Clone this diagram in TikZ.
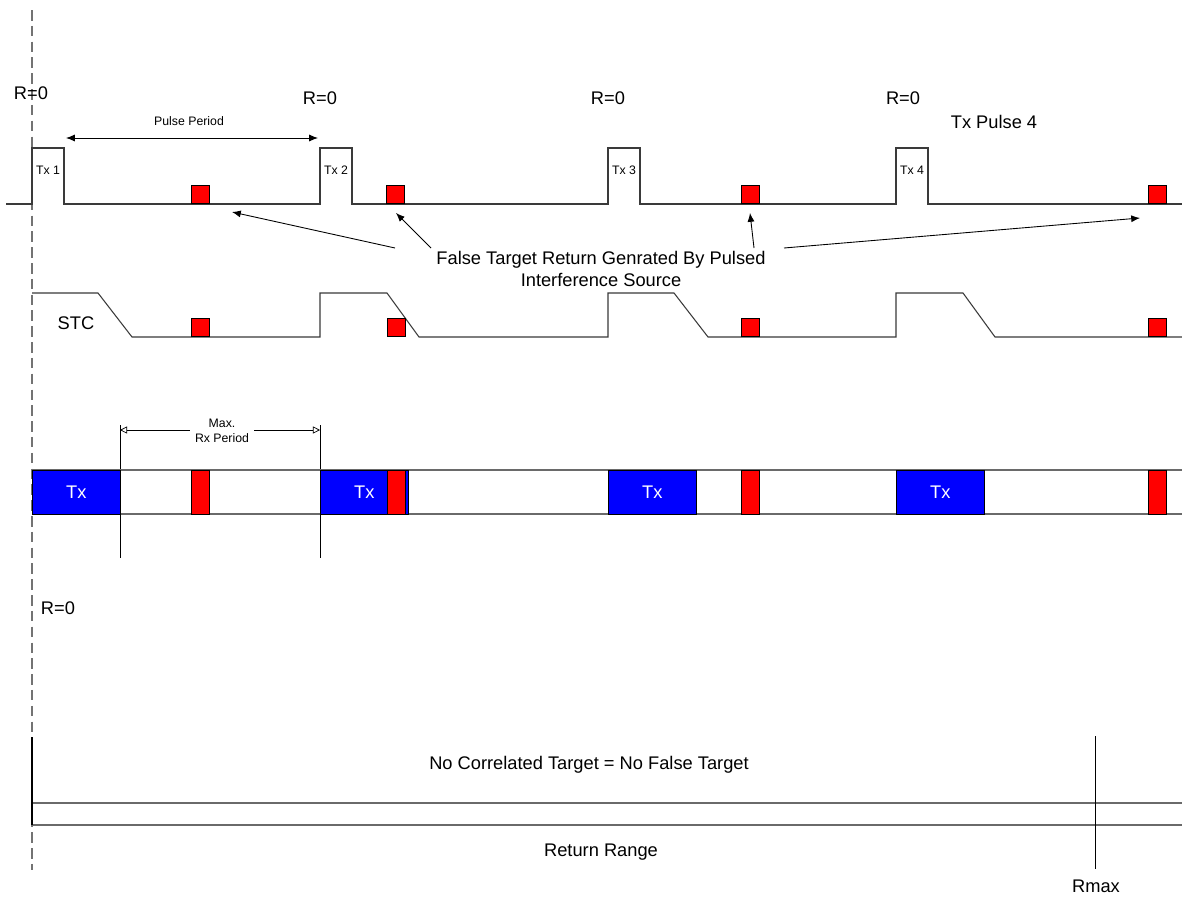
\documentclass[tikz,border=0pt]{standalone}
\usepackage{fontspec}
\setmainfont{Liberation Sans}
\usepackage{xcolor}
\definecolor{cTx}  {HTML}{0000FF}
\definecolor{cHit} {HTML}{FF0000}
\definecolor{cWave}{HTML}{3A3A3A}
\definecolor{cRail}{HTML}{6A6A6A}
\usepackage{tikz}
\usetikzlibrary{arrows.meta, positioning}
\tikzset{
  lbl/.style    = {font=\fontsize{10.4}{12.5}\selectfont, inner sep=0pt},
  note/.style   = {font=\fontsize{7}{8.6}\selectfont, inner sep=0pt},
  wave/.style   = {draw=cWave, line width=0.6pt},
  rail/.style   = {draw=cRail, line width=0.7pt},
  rzero/.style  = {draw=black!55, line width=0.9pt, dash pattern=on 6pt off 3pt},
  tgt/.style    = {rectangle, draw=black, fill=cHit, line width=0.4pt,
                   minimum width=0.36cm, minimum height=#1, inner sep=0pt},
  tgt/.default  = 0.36cm,
  txbox/.style  = {rectangle, draw=black, fill=cTx, text=white, line width=0.4pt,
                   minimum width=#1, minimum height=0.88cm, inner sep=0pt,
                   anchor=north west, font=\fontsize{10.4}{12.5}\selectfont},
  txbox/.default = 1.76cm,
  arr/.style    = {-{Latex[length=5pt,width=4pt]}, line width=0.5pt},
  darr/.style   = {{Latex[length=5pt,width=4pt]}-{Latex[length=5pt,width=4pt]},
                   line width=0.5pt},
  dimarr/.style = {{Triangle[open,length=4pt,width=4pt]}-{Triangle[open,length=4pt,width=4pt]},
                   line width=0.4pt},
}

\begin{document}
\begin{tikzpicture}[x=0.02cm, y=-0.02cm]

  \fill[white] (0,0) rectangle (1182,899);
  \useasboundingbox (0,0) rectangle (1182,899);

  % R=0 reference line
  \draw[rzero] (32,10) -- (32,870);

  % transmitted pulses
  \draw[wave] (6,204) -- (32,204) -- (32,148) -- (64,148) -- (64,204)
    -- (320,204) -- (320,148) -- (352,148) -- (352,204)
    -- (608,204) -- (608,148) -- (640,148) -- (640,204)
    -- (896,204) -- (896,148) -- (928,148) -- (928,204) -- (1182,204);

  \node[lbl] (r1) at (31,93) {R=0};
  \foreach \n/\x/\r in {2/320/320, 3/608/608, 4/896/903}
    \node[lbl] (r\n) at (\r,98) {R=0};
  \foreach \n/\x in {1/32, 2/320, 3/608, 4/896}
    \node[note] (tx\n) at (\x+16,170) {Tx \n};
  \node[lbl] (txp4) at (994,122) {Tx Pulse 4};

  \node[note] (pp) at (189,121) {Pulse Period};
  \coordinate (pp1) at (66,138);
  \coordinate (pp2) at (318,138);
  \draw[darr] (pp1) -- (pp2);

  % false target returns
  \foreach \n/\x in {1/191, 2/386, 3/741, 4/1148}
    \node[tgt, anchor=south west] (ft\n) at (\x,204) {};

  \node[lbl, align=center] (ft) at (601,269)
    {False Target Return Genrated By Pulsed\\Interference Source};
  \coordinate (a1) at (395,248);
  \coordinate (a2) at (431,248);
  \coordinate (a3) at (754,248);
  \coordinate (a4) at (784,248);
  \coordinate (h1) at (232,212);
  \coordinate (h2) at (396,213);
  \coordinate (h3) at (750,213);
  \coordinate (h4) at (1140,218);
  \foreach \n in {1,...,4}
    \draw[arr] (a\n) -- (h\n);

  % STC
  \draw[wave] (32,293) -- (98,293) -- (132,337) -- (320,337)
    -- (320,293) -- (387,293) -- (419,337) -- (608,337)
    -- (608,293) -- (674,293) -- (708,337) -- (896,337)
    -- (896,293) -- (963,293) -- (995,337) -- (1182,337);
  \node[lbl] (stc) at (76,323) {STC};
  \foreach \n/\x in {1/191, 2/387, 3/741, 4/1148}
    \node[tgt, anchor=south west] (st\n) at (\x,337) {};

  % receive windows
  \draw[thin] (120,425) -- (120,558);
  \draw[thin] (320,425) -- (320,558);
  \coordinate (mx1) at (120,430);
  \coordinate (mx2) at (320,430);
  \draw[dimarr] (mx1) -- (mx2);
  \node[note, align=center, fill=white, inner xsep=3pt] (mrx) at (222,431)
    {Max.\\Rx Period};

  \draw[rail] (32,470) -- (1182,470);
  \draw[rail] (32,514) -- (1182,514);
  \node[txbox] (bx1) at (32,470) {Tx};
  \node[txbox] (bx2) at (320,470) {Tx};
  \node[txbox] (bx3) at (608,470) {Tx};
  \node[txbox] (bx4) at (896,470) {Tx};
  \foreach \n/\x in {1/191, 2/387, 3/741, 4/1148}
    \node[tgt=0.88cm, anchor=north west] (rb\n) at (\x,470) {};

  % return range
  \node[lbl] (r5) at (58,608) {R=0};
  \node[lbl] (nct) at (589,765) {No Correlated Target = No False Target};
  \draw[rail] (32,803) -- (1182,803);
  \draw[rail] (32,825) -- (1182,825);
  \draw[line width=0.7pt] (32,737) -- (32,825);
  \draw[line width=0.5pt] (1095,736) -- (1095,869);
  \node[lbl] (rr) at (601,852) {Return Range};
  \node[lbl] (rmax) at (1096,886) {Rmax};

\end{tikzpicture}
\end{document}
